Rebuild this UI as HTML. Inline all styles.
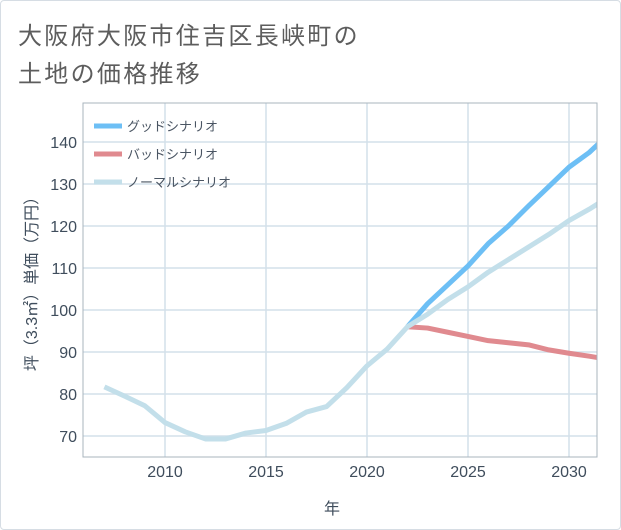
<!DOCTYPE html>
<html><head><meta charset="utf-8"><style>
body{margin:0;background:#fff;}
#card{position:absolute;left:0;top:0;width:619px;height:528px;border:1px solid #d6dde4;border-radius:4px;background:#fff;}
.t{position:absolute;left:17px;font:24px "Liberation Sans","Noto Sans CJK JP",sans-serif;color:#5d5d5d;letter-spacing:2.3px;}
svg text{font-family:"Liberation Sans","Noto Sans CJK JP",sans-serif;}
</style></head><body>
<div id="card">
<div class="t" style="top:15px">大阪府大阪市住吉区長峡町の</div>
<div class="t" style="top:53px">土地の価格推移</div>
</div>
<svg id="chart" width="621" height="530" style="position:absolute;left:0;top:0">
<defs><clipPath id="pc"><rect x="83" y="103" width="514" height="354"/></clipPath></defs>
<g id="grid"></g><g id="lines" clip-path="url(#pc)"></g><g id="axes"></g><g id="legend"></g>
</svg>
<script>
const years=[2007,2008,2009,2010,2011,2012,2013,2014,2015,2016,2017,2018,2019,2020,2021,2022,2023,2024,2025,2026,2027,2028,2029,2030,2031,2032];
const normal=[81.7,79.5,77.2,73.2,71,69.3,69.3,70.7,71.3,73,75.7,77,81.5,86.7,90.7,96,99,102.5,105.5,109,112,115,118,121.3,124,127];
const goodYears=[2022,2023,2024,2025,2026,2027,2028,2029,2030,2031,2032];
const good=[96,101.5,106,110.5,115.8,120,124.8,129.4,134,137.5,142];
const bad=[96,95.7,94.7,93.7,92.7,92.2,91.7,90.5,89.7,89,88.2];
const xTicks=[2010,2015,2020,2025,2030];
const yTicks=[70,80,90,100,110,120,130,140];
const names=["グッドシナリオ","バッドシナリオ","ノーマルシナリオ"];
const colors=["#6dbff5","#e08a8f","#c3dfea"];
const NS="http://www.w3.org/2000/svg";
const X=y=>165+(y-2010)*20.2;
const Y=v=>142+(140-v)*4.2;
function mk(tag,attrs,parent){const e=document.createElementNS(NS,tag);for(const k in attrs)e.setAttribute(k,attrs[k]);parent.appendChild(e);return e;}
const grid=document.getElementById('grid'),axes=document.getElementById('axes'),lines=document.getElementById('lines'),legend=document.getElementById('legend');
xTicks.forEach(t=>{
 const l=mk('line',{x1:X(t),x2:X(t),y1:103,y2:457,stroke:'#d3e0ea','stroke-width':1.5},grid);
 
 
 const tx=mk('text',{x:X(t),y:477,'text-anchor':'middle','font-size':16,fill:'#3f4d5c'},axes);tx.textContent=t;
 
 
});
yTicks.forEach(t=>{
 const l=mk('line',{x1:83,x2:597,y1:Y(t),y2:Y(t),stroke:'#d3e0ea','stroke-width':1.5},grid);
 
 
 const tx=mk('text',{x:77,y:Y(t)+6,'text-anchor':'end','font-size':16,fill:'#3f4d5c'},axes);tx.textContent=t;
 
 
});
const box=mk('rect',{x:83,y:103,width:514,height:354,fill:'none',stroke:'#a9b4bd','stroke-width':1},axes);


function path(xs,vs,c,name){const p=mk('polyline',{points:xs.map((y,i)=>X(y)+','+Y(vs[i])).join(' '),fill:'none',stroke:c,'stroke-width':5,'stroke-linejoin':'round'},lines);
 
 }
path(goodYears,bad,colors[1],'bad-scenario-line');
path(goodYears,good,colors[0],'good-scenario-line');
path(years,normal,colors[2],'normal-scenario-line');
const xt=mk('text',{x:332,y:514,'text-anchor':'middle','font-size':16,fill:'#3f4d5c'},axes);xt.textContent='年';


const yt=mk('text',{x:0,y:0,transform:'translate(37,280) rotate(-90)','text-anchor':'middle','font-size':16,fill:'#3f4d5c'},axes);yt.textContent='坪（3.3㎡）単価（万円）';


names.forEach((n,i)=>{
 const ly=126+i*28;
 const l=mk('line',{x1:94,x2:122,y1:ly,y2:ly,stroke:colors[i],'stroke-width':5},legend);
 
 
 const tx=mk('text',{x:127,y:ly+5,'font-size':13,fill:'#4a5563'},legend);tx.textContent=n;
 
 
});
</script>
</body></html>
